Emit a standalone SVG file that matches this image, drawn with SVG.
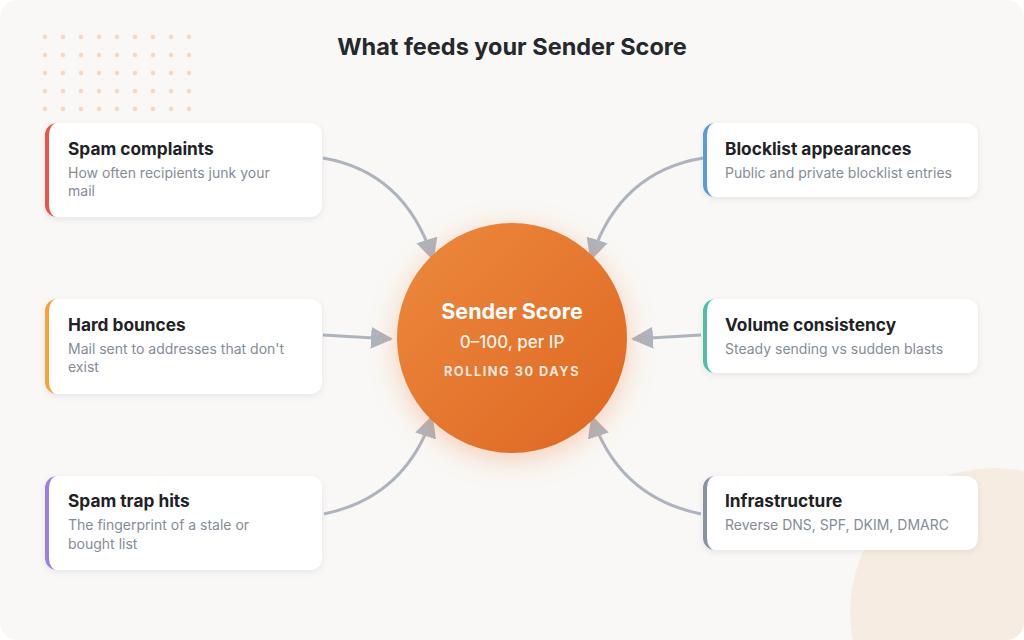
<svg xmlns="http://www.w3.org/2000/svg" width="1024" height="640" viewBox="0 0 1024 640">
  <defs>
    <style>
      .title { font-family: Inter, "Liberation Sans", sans-serif; font-weight: 700; font-size: 23.5px; fill: #25282d; }
      .ct { font-family: Inter, "Liberation Sans", sans-serif; font-weight: 700; font-size: 17.3px; fill: #1f2226; }
      .cd { font-family: Inter, "Liberation Sans", sans-serif; font-weight: 400; font-size: 14px; fill: #858c97; }
      .card { fill: #ffffff; filter: url(#shadow); }
      .conn { fill: none; stroke: #aeb4be; stroke-width: 3; marker-end: url(#arrow); }
      .dot { fill: #f6d7c2; }
      .h1 { font-family: Inter, "Liberation Sans", sans-serif; font-weight: 700; font-size: 21.5px; fill: #ffffff; }
      .h2 { font-family: Inter, "Liberation Sans", sans-serif; font-weight: 500; font-size: 17px; fill: #ffffff; fill-opacity: 0.92; }
      .h3 { font-family: Inter, "Liberation Sans", sans-serif; font-weight: 700; font-size: 12.8px; letter-spacing: 1.5px; fill: #ffffff; fill-opacity: 0.85; }
    </style>
    <filter id="shadow" x="-10%" y="-20%" width="120%" height="150%">
      <feDropShadow dx="0" dy="2" stdDeviation="3" flood-color="#000000" flood-opacity="0.08"/>
    </filter>
    <filter id="glow" x="-40%" y="-40%" width="180%" height="180%">
      <feDropShadow dx="0" dy="6" stdDeviation="14" flood-color="#f07a30" flood-opacity="0.35"/>
    </filter>
    <linearGradient id="orb" x1="0" y1="0" x2="1" y2="1">
      <stop offset="0" stop-color="#ec8a3c"/>
      <stop offset="1" stop-color="#de6623"/>
    </linearGradient>
    <clipPath id="page">
      <rect x="0" y="0" width="1024" height="640" rx="18"/>
    </clipPath>
    <marker id="arrow" markerUnits="userSpaceOnUse" markerWidth="24" markerHeight="24" refX="20" refY="11" orient="auto">
      <path d="M0,0 L22,11 L0,22 Z" fill="#aeb4be"/>
    </marker>
  </defs>

  <rect x="0" y="0" width="1024" height="640" fill="#ffffff"/>
  <g clip-path="url(#page)">
    <rect x="0" y="0" width="1024" height="640" fill="#f9f8f6"/>
    <circle cx="994" cy="612" r="144" fill="#f7ece1"/>
  </g>

  <g id="dots">
    <g class="dot">
      <circle cx="45" cy="37" r="2.3"/><circle cx="63" cy="37" r="2.3"/><circle cx="81" cy="37" r="2.3"/><circle cx="99" cy="37" r="2.3"/><circle cx="117" cy="37" r="2.3"/><circle cx="135" cy="37" r="2.3"/><circle cx="153" cy="37" r="2.3"/><circle cx="171" cy="37" r="2.3"/><circle cx="189" cy="37" r="2.3"/>
      <circle cx="45" cy="55" r="2.3"/><circle cx="63" cy="55" r="2.3"/><circle cx="81" cy="55" r="2.3"/><circle cx="99" cy="55" r="2.3"/><circle cx="117" cy="55" r="2.3"/><circle cx="135" cy="55" r="2.3"/><circle cx="153" cy="55" r="2.3"/><circle cx="171" cy="55" r="2.3"/><circle cx="189" cy="55" r="2.3"/>
      <circle cx="45" cy="73" r="2.3"/><circle cx="63" cy="73" r="2.3"/><circle cx="81" cy="73" r="2.3"/><circle cx="99" cy="73" r="2.3"/><circle cx="117" cy="73" r="2.3"/><circle cx="135" cy="73" r="2.3"/><circle cx="153" cy="73" r="2.3"/><circle cx="171" cy="73" r="2.3"/><circle cx="189" cy="73" r="2.3"/>
      <circle cx="45" cy="91" r="2.3"/><circle cx="63" cy="91" r="2.3"/><circle cx="81" cy="91" r="2.3"/><circle cx="99" cy="91" r="2.3"/><circle cx="117" cy="91" r="2.3"/><circle cx="135" cy="91" r="2.3"/><circle cx="153" cy="91" r="2.3"/><circle cx="171" cy="91" r="2.3"/><circle cx="189" cy="91" r="2.3"/>
      <circle cx="45" cy="109" r="2.3"/><circle cx="63" cy="109" r="2.3"/><circle cx="81" cy="109" r="2.3"/><circle cx="99" cy="109" r="2.3"/><circle cx="117" cy="109" r="2.3"/><circle cx="135" cy="109" r="2.3"/><circle cx="153" cy="109" r="2.3"/><circle cx="171" cy="109" r="2.3"/><circle cx="189" cy="109" r="2.3"/>
    </g>
  </g>

  <text class="title" x="512" y="55" text-anchor="middle">What feeds your Sender Score</text>

  <g id="connectors">
    <path class="conn" d="M323,158 Q405,172 433,259"/>
    <path class="conn" d="M323,335 L391,339"/>
    <path class="conn" d="M324,514 Q405,497 432,417"/>
    <path class="conn" d="M703,158 Q619,172 591,259"/>
    <path class="conn" d="M701,335 L633,339"/>
    <path class="conn" d="M701,514 Q619,497 592,417"/>
  </g>

  <g id="center">
    <circle cx="512" cy="338" r="115" fill="url(#orb)" filter="url(#glow)"/>
    <text class="h1" x="512" y="319" text-anchor="middle">Sender Score</text>
    <text class="h2" x="512" y="348" text-anchor="middle">0–100, per IP</text>
    <text class="h3" x="512" y="376" text-anchor="middle">ROLLING 30 DAYS</text>
  </g>

  <g id="spam-complaints">
    <rect class="card" x="45" y="123" width="277" height="94" rx="12"/>
    <path d="M57,123 A12,12 0 0 0 45,135 L45,205 A12,12 0 0 0 57,217 A8,12 0 0 1 49,205 L49,135 A8,12 0 0 1 57,123 Z" fill="#e8564a"/>
    <text class="ct" x="68" y="155">Spam complaints</text>
    <text class="cd" x="68" y="178">How often recipients junk your</text>
    <text class="cd" x="68" y="196">mail</text>
  </g>

  <g id="hard-bounces">
    <rect class="card" x="45" y="299" width="277" height="95" rx="12"/>
    <path d="M57,299 A12,12 0 0 0 45,311 L45,382 A12,12 0 0 0 57,394 A8,12 0 0 1 49,382 L49,311 A8,12 0 0 1 57,299 Z" fill="#f2a43a"/>
    <text class="ct" x="68" y="331">Hard bounces</text>
    <text class="cd" x="68" y="354">Mail sent to addresses that don't</text>
    <text class="cd" x="68" y="372">exist</text>
  </g>

  <g id="spam-trap-hits">
    <rect class="card" x="45" y="476" width="277" height="94" rx="12"/>
    <path d="M57,476 A12,12 0 0 0 45,488 L45,558 A12,12 0 0 0 57,570 A8,12 0 0 1 49,558 L49,488 A8,12 0 0 1 57,476 Z" fill="#9b7fe3"/>
    <text class="ct" x="68" y="507">Spam trap hits</text>
    <text class="cd" x="68" y="530">The fingerprint of a stale or</text>
    <text class="cd" x="68" y="549">bought list</text>
  </g>

  <g id="blocklist-appearances">
    <rect class="card" x="703" y="123" width="275" height="74" rx="12"/>
    <path d="M715,123 A12,12 0 0 0 703,135 L703,185 A12,12 0 0 0 715,197 A8,12 0 0 1 707,185 L707,135 A8,12 0 0 1 715,123 Z" fill="#5a9be0"/>
    <text class="ct" x="725" y="155">Blocklist appearances</text>
    <text class="cd" x="725" y="178">Public and private blocklist entries</text>
  </g>

  <g id="volume-consistency">
    <rect class="card" x="703" y="299" width="275" height="74" rx="12"/>
    <path d="M715,299 A12,12 0 0 0 703,311 L703,361 A12,12 0 0 0 715,373 A8,12 0 0 1 707,361 L707,311 A8,12 0 0 1 715,299 Z" fill="#4cc0a4"/>
    <text class="ct" x="725" y="331">Volume consistency</text>
    <text class="cd" x="725" y="354">Steady sending vs sudden blasts</text>
  </g>

  <g id="infrastructure">
    <rect class="card" x="703" y="476" width="275" height="74" rx="12"/>
    <path d="M715,476 A12,12 0 0 0 703,488 L703,538 A12,12 0 0 0 715,550 A8,12 0 0 1 707,538 L707,488 A8,12 0 0 1 715,476 Z" fill="#8b93a3"/>
    <text class="ct" x="725" y="507">Infrastructure</text>
    <text class="cd" x="725" y="530">Reverse DNS, SPF, DKIM, DMARC</text>
  </g>
</svg>
